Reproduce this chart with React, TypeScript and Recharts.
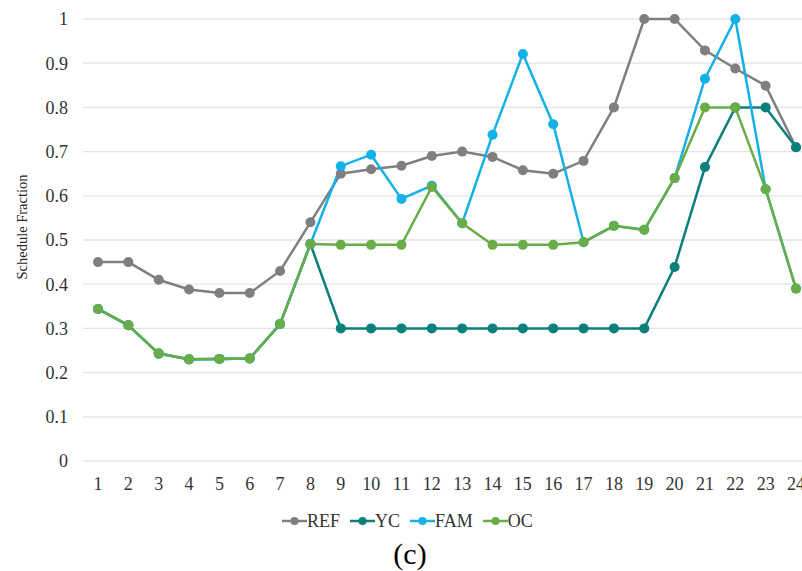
import React from "react";
import { LineChart, Line, XAxis, YAxis, CartesianGrid } from "recharts";

const hours = ["1","2","3","4","5","6","7","8","9","10","11","12","13","14","15","16","17","18","19","20","21","22","23","24"];
const refValues = [0.45,0.45,0.41,0.388,0.38,0.38,0.43,0.54,0.65,0.66,0.668,0.69,0.70,0.688,0.658,0.65,0.679,0.80,1.0,1.0,0.929,0.888,0.849,0.71];
const ycValues = [0.344,0.307,0.243,0.23,0.231,0.232,0.31,0.491,0.30,0.30,0.30,0.30,0.30,0.30,0.30,0.30,0.30,0.30,0.30,0.439,0.665,0.80,0.80,0.71];
const famValues = [0.344,0.307,0.243,0.23,0.231,0.232,0.31,0.491,0.667,0.693,0.593,0.623,0.538,0.738,0.921,0.762,0.495,0.532,0.523,0.64,0.865,1.0,0.615,0.39];
const ocValues = [0.344,0.307,0.243,0.23,0.231,0.232,0.31,0.491,0.489,0.489,0.489,0.62,0.538,0.489,0.489,0.489,0.495,0.532,0.523,0.64,0.80,0.80,0.615,0.39];
const yTicks = [0,0.1,0.2,0.3,0.4,0.5,0.6,0.7,0.8,0.9,1];

const seriesNames = ["REF","YC","FAM","OC"];
const seriesColors = ["#7f7f7f","#0b7f7b","#14b1e7","#6aac46"];

const data = hours.map((h, i) => ({
  hour: h,
  REF: refValues[i],
  YC: ycValues[i],
  FAM: famValues[i],
  OC: ocValues[i],
}));

const FONT = "'Liberation Serif', 'Times New Roman', serif";

const YLabel = () => {
  const cx = 22;
  const cy = 227;
  return (
    <text x={cx} y={cy} transform={`rotate(-90, ${cx}, ${cy})`} textAnchor="middle" dominantBaseline="central" fontFamily={FONT} fontSize={14.5} fill="#262626">
      Schedule Fraction
    </text>
  );
};

export default function App() {
  return (
    <div style={{ position: "absolute", left: 0, top: 0, width: 802, height: 571, overflow: "hidden", background: "#fff" }}>
      <LineChart width={820} height={571} data={data} margin={{ top: 19, right: 9, bottom: 80, left: 0 }}>
        <CartesianGrid horizontal={true} vertical={false} stroke="#e3e3e3" strokeWidth={1.3} />
        <XAxis
          dataKey="hour"
          axisLine={false}
          tickLine={false}
          tickSize={0}
          tickMargin={16}
          height={30}
          padding={{ left: 15, right: 15 }}
          interval={0}
          tick={{ fontFamily: FONT, fontSize: 18, fill: "#333333" }}
        />
        <YAxis
          width={83}
          domain={[0, 1]}
          ticks={yTicks}
          axisLine={false}
          tickLine={false}
          tickSize={0}
          tickMargin={15}
          tick={{ fontFamily: FONT, fontSize: 18, fill: "#333333" }}
          label={{ content: YLabel }}
        />
        {seriesNames.map((name, i) => (
          <Line
            key={name}
            type="linear"
            dataKey={name}
            stroke={seriesColors[i]}
            strokeWidth={2.5}
            dot={{ r: 5, fill: seriesColors[i], stroke: seriesColors[i], strokeWidth: 0 }}
            activeDot={false}
            isAnimationActive={false}
          />
        ))}
      </LineChart>
      <div style={{ position: "absolute", top: 509, left: 282, display: "flex", fontFamily: FONT, fontSize: 18, lineHeight: "24px", color: "#333333" }}>
        {seriesNames.map((name, i) => (
          <div key={name} style={{ display: "flex", alignItems: "center", marginRight: 10 }}>
            <svg width={25} height={12}>
              <line x1={0} y1={6} x2={25} y2={6} stroke={seriesColors[i]} strokeWidth={2.5} />
              <circle cx={12.5} cy={6} r={4} fill={seriesColors[i]} />
            </svg>
            <span>{name}</span>
          </div>
        ))}
      </div>
      <div style={{ position: "absolute", top: 536, left: 0, width: 802, textAlign: "center", paddingLeft: 18, boxSizing: "border-box", fontFamily: FONT, fontSize: 30, lineHeight: "36px", color: "#000" }}>
        (c)
      </div>
    </div>
  );
}
